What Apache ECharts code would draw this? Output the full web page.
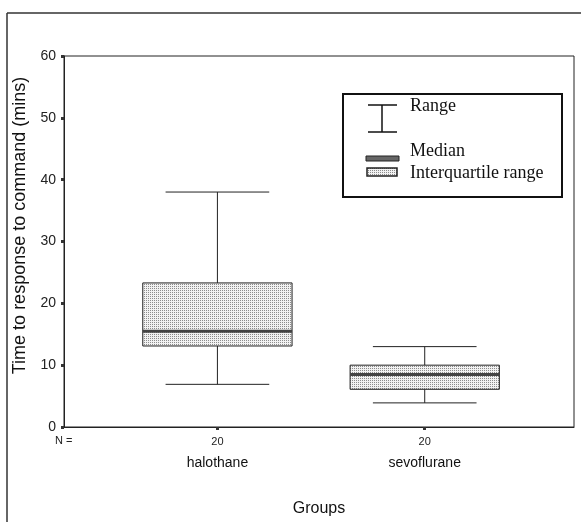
<!DOCTYPE html>
<html>
<head>
<meta charset="utf-8">
<script src="https://cdn.jsdelivr.net/npm/echarts@6/dist/echarts.min.js"></script>
<style>
html,body{margin:0;padding:0;background:#fff;}
#chart{width:581px;height:522px;}
</style>
</head>
<body>
<div id="chart"></div>
<script>
// ---- data ----
var categories = ['halothane', 'sevoflurane'];
var groupN = [20, 20];
var groupPos = [1, 2];
var minVals = [6.9, 3.9];
var q1Vals = [13.1, 6.1];
var medianVals = [15.5, 8.5];
var q3Vals = [23.3, 10.0];
var maxVals = [38.0, 13.0];
var yTicks = [0, 10, 20, 30, 40, 50, 60];

// stipple pattern for the interquartile boxes
function makePattern() {
  var c = document.createElement('canvas');
  c.width = 2; c.height = 2;
  var ctx = c.getContext('2d');
  ctx.fillStyle = '#f2f2f2';
  ctx.fillRect(0, 0, 2, 2);
  ctx.fillStyle = '#8c8c8c';
  ctx.fillRect(0, 0, 1, 1);
  return c;
}
var pattern = makePattern();

var boxData = groupPos.map(function (p, i) {
  return [p, minVals[i], q1Vals[i], medianVals[i], q3Vals[i], maxVals[i]];
});

var chart = echarts.init(document.getElementById('chart'));

var serif = 'Liberation Serif, Times New Roman, serif';
var sans = 'Arial, Liberation Sans, sans-serif';

var option = {
  animation: false,
  backgroundColor: '#fff',
  grid: {
    left: 64, top: 56, right: 7, bottom: 95,
    outerBoundsMode: 'none', containLabel: false,
    show: true, borderColor: '#222', borderWidth: 1, backgroundColor: 'transparent'
  },
  xAxis: {
    type: 'value',
    min: 0.26, max: 2.72,
    splitLine: { show: false },
    axisLine: { show: true, lineStyle: { color: '#222', width: 1 } },
    axisTick: { show: true, customValues: groupPos, length: 3, lineStyle: { color: '#333', width: 3 } },
    axisLabel: {
      show: true,
      customValues: groupPos,
      margin: 5,
      formatter: function (v) {
        var i = groupPos.indexOf(v);
        if (i < 0) return '';
        return '{n|' + groupN[i] + '}\n{c|' + categories[i] + '}';
      },
      rich: {
        n: { fontFamily: sans, fontSize: 11, color: '#222', lineHeight: 20 },
        c: { fontFamily: sans, fontSize: 14, color: '#111', lineHeight: 22 }
      }
    },
    name: 'Groups',
    nameLocation: 'middle',
    nameGap: 74,
    nameTextStyle: { fontFamily: sans, fontSize: 16, color: '#111' }
  },
  yAxis: {
    type: 'value',
    min: 0, max: 60, interval: 10,
    splitLine: { show: false },
    axisLine: { show: true, lineStyle: { color: '#222', width: 1 } },
    axisTick: { show: true, length: 3, lineStyle: { color: '#333', width: 3 } },
    axisLabel: {
      fontFamily: sans, fontSize: 14, color: '#222', margin: 8,
      formatter: function (v) { return yTicks.indexOf(v) >= 0 ? String(v) : ''; }
    },
    name: 'Time to response to command (mins)',
    nameLocation: 'middle',
    nameGap: 35,
    nameTextStyle: { fontFamily: sans, fontSize: 18, color: '#111', padding: [0, 0, 0, 32] }
  },
  series: [{
    type: 'custom',
    data: boxData,
    encode: { x: 0, y: [1, 2, 3, 4, 5] },
    renderItem: function (params, api) {
      var x = api.value(0);
      var pMin = api.coord([x, api.value(1)]);
      var pQ1 = api.coord([x, api.value(2)]);
      var pMed = api.coord([x, api.value(3)]);
      var pQ3 = api.coord([x, api.value(4)]);
      var pMax = api.coord([x, api.value(5)]);
      var boxW = api.size([0.72, 0])[0];
      var capW = api.size([0.5, 0])[0];
      var cx = pMed[0];
      var lineStyle = { stroke: '#222', lineWidth: 1 };
      return {
        type: 'group',
        children: [
          { type: 'line', shape: { x1: cx, y1: pMax[1], x2: cx, y2: pQ3[1] }, style: lineStyle },
          { type: 'line', shape: { x1: cx, y1: pQ1[1], x2: cx, y2: pMin[1] }, style: lineStyle },
          { type: 'line', shape: { x1: cx - capW / 2, y1: pMax[1], x2: cx + capW / 2, y2: pMax[1] }, style: lineStyle },
          { type: 'line', shape: { x1: cx - capW / 2, y1: pMin[1], x2: cx + capW / 2, y2: pMin[1] }, style: lineStyle },
          { type: 'rect', shape: { x: cx - boxW / 2, y: pQ3[1], width: boxW, height: pQ1[1] - pQ3[1] },
            style: { fill: { image: pattern, repeat: 'repeat' }, stroke: '#222', lineWidth: 1 } },
          { type: 'line', shape: { x1: cx - boxW / 2, y1: pMed[1], x2: cx + boxW / 2, y2: pMed[1] },
            style: { stroke: '#444', lineWidth: 3 } }
        ]
      };
    }
  }],
  graphic: [
    // outer figure frame
    { type: 'line', shape: { x1: 7, y1: 13, x2: 7, y2: 522 }, style: { stroke: '#333', lineWidth: 1.5 } },
    { type: 'line', shape: { x1: 7, y1: 13, x2: 581, y2: 13 }, style: { stroke: '#333', lineWidth: 1.5 } },
    // N =
    { type: 'text', left: 55, top: 435, style: { text: 'N =', fontFamily: sans, fontSize: 11, fill: '#222' } },
    // legend box
    { type: 'rect', shape: { x: 343, y: 94, width: 219, height: 103 }, style: { fill: '#fff', stroke: '#111', lineWidth: 2 } },
    // range symbol
    { type: 'line', shape: { x1: 382, y1: 105, x2: 382, y2: 132 }, style: { stroke: '#111', lineWidth: 1.5 } },
    { type: 'line', shape: { x1: 368, y1: 105, x2: 397, y2: 105 }, style: { stroke: '#111', lineWidth: 1.5 } },
    { type: 'line', shape: { x1: 368, y1: 132, x2: 397, y2: 132 }, style: { stroke: '#111', lineWidth: 1.5 } },
    { type: 'text', style: { x: 410, y: 106, verticalAlign: 'middle', text: 'Range', fontFamily: serif, fontSize: 18, fill: '#111' } },
    // median symbol
    { type: 'rect', shape: { x: 366, y: 156, width: 33, height: 5 }, style: { fill: '#666', stroke: '#222', lineWidth: 1 } },
    { type: 'text', style: { x: 410, y: 151, verticalAlign: 'middle', text: 'Median', fontFamily: serif, fontSize: 18, fill: '#111' } },
    // IQR symbol
    { type: 'rect', shape: { x: 367, y: 168, width: 30, height: 8 }, style: { fill: { image: pattern, repeat: 'repeat' }, stroke: '#222', lineWidth: 1.5 } },
    { type: 'text', style: { x: 410, y: 173, verticalAlign: 'middle', text: 'Interquartile range', fontFamily: serif, fontSize: 18, fill: '#111' } }
  ]
};
chart.setOption(option);
</script>
</body>
</html>
